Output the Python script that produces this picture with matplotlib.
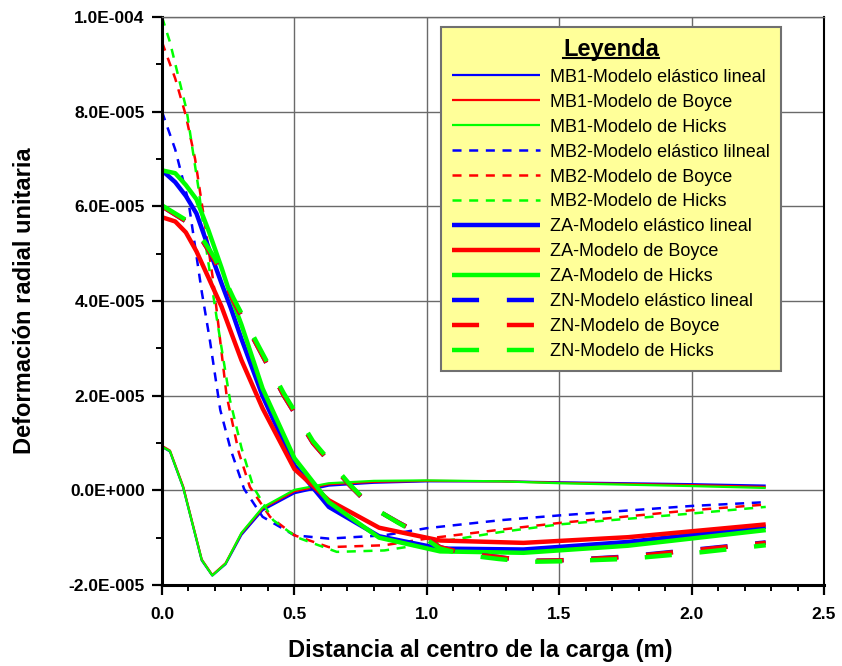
import numpy as np
import matplotlib
matplotlib.use("Agg")
import matplotlib.pyplot as plt
from matplotlib.ticker import MultipleLocator, FuncFormatter, FixedLocator
from matplotlib.lines import Line2D

plt.rcParams['font.family'] = ['Liberation Sans', 'DejaVu Sans']
plt.rcParams['lines.scale_dashes'] = False

# deformations in units of 1E-006
x_mb1 = [0, 0.03, 0.08, 0.15, 0.19, 0.24, 0.30, 0.38, 0.50, 0.63, 0.80, 1.00, 1.28, 1.50, 2.00, 2.28]
mb1_elastico = [9.2, 8.2, 0.6, -14.8, -18.0, -15.6, -9.4, -4.2, -0.6, 1.0, 1.6, 1.9, 1.9, 1.7, 1.3, 1.0]
mb1_boyce = [9.4, 8.4, 0.8, -14.6, -17.9, -15.4, -9.1, -3.8, -0.2, 1.3, 1.8, 2.0, 1.9, 1.6, 1.1, 0.7]
mb1_hicks = [9.2, 8.3, 0.6, -14.7, -18.0, -15.5, -9.0, -3.6, 0.1, 1.5, 2.0, 2.1, 1.9, 1.5, 0.9, 0.5]

x_mb2_el = [0, 0.05, 0.10, 0.15, 0.18, 0.22, 0.26, 0.31, 0.38, 0.50, 0.63, 0.84, 1.00, 1.28, 1.50, 2.00, 2.28]
mb2_elastico = [80.0, 72.0, 61.0, 42.0, 32.0, 17.0, 8.5, 0.3, -5.6, -9.5, -10.2, -9.5, -8.0, -6.3, -5.3, -3.3, -2.5]
x_mb2_bo = [0, 0.05, 0.09, 0.125, 0.156, 0.194, 0.244, 0.29, 0.332, 0.408, 0.50, 0.63, 0.84, 1.00, 1.28, 1.50, 2.00, 2.28]
mb2_boyce = [94.7, 87.0, 79.2, 70.0, 58.5, 44.0, 20.0, 8.0, 0.7, -5.6, -9.5, -12.0, -11.6, -10.2, -8.3, -6.9, -4.2, -3.0]
x_mb2_hi = [0, 0.03, 0.093, 0.137, 0.17, 0.206, 0.257, 0.30, 0.345, 0.42, 0.508, 0.66, 0.84, 1.00, 1.28, 1.50, 2.00, 2.28]
mb2_hicks = [100.0, 94.7, 80.3, 64.1, 50.0, 36.6, 19.0, 9.0, 0.7, -6.3, -9.9, -13.0, -12.7, -11.3, -8.8, -7.2, -4.9, -3.5]

x_za = [0, 0.05, 0.09, 0.13, 0.175, 0.225, 0.26, 0.30, 0.38, 0.50, 0.63, 0.82, 1.05, 1.365, 1.76, 2.28]
za_elastico = [67.6, 65.1, 62.2, 58.5, 51.4, 43.7, 38.5, 32.0, 19.9, 5.3, -3.5, -9.7, -12.3, -12.5, -10.9, -7.7]
za_boyce = [57.7, 56.8, 54.5, 50.5, 45.0, 38.8, 33.5, 27.5, 17.3, 4.5, -2.1, -7.9, -10.6, -11.1, -9.9, -7.2]
za_hicks = [67.6, 67.0, 64.5, 61.5, 55.0, 47.0, 41.0, 35.0, 21.5, 6.8, -2.5, -10.0, -12.9, -13.2, -11.7, -8.4]

x_zn = [0, 0.10, 0.15, 0.20, 0.27, 0.36, 0.46, 0.57, 0.71, 0.79, 0.89, 0.97, 1.05, 1.15, 1.27, 1.38, 1.50, 1.75, 2.00, 2.28]
zn_elastico = [60.0, 56.5, 53.0, 48.5, 40.0, 30.5, 20.0, 10.0, 1.0, -3.5, -6.7, -9.1, -12.0, -13.4, -14.1, -14.9, -14.8, -14.0, -12.6, -11.0]
zn_boyce = [60.0, 56.5, 53.0, 48.5, 40.0, 30.5, 20.0, 10.0, 1.0, -3.5, -6.7, -9.1, -12.0, -13.4, -14.1, -14.9, -14.8, -14.1, -12.7, -11.1]
zn_hicks = [60.2, 56.8, 53.4, 49.0, 40.6, 31.0, 20.5, 10.4, 1.2, -3.4, -6.8, -9.3, -12.3, -13.7, -14.5, -15.1, -15.0, -14.5, -13.3, -11.6]

labels = ["MB1-Modelo elástico lineal", "MB1-Modelo de Boyce", "MB1-Modelo de Hicks",
          "MB2-Modelo elástico lilneal", "MB2-Modelo de Boyce", "MB2-Modelo de Hicks",
          "ZA-Modelo elástico lineal", "ZA-Modelo de Boyce", "ZA-Modelo de Hicks",
          "ZN-Modelo elástico lineal", "ZN-Modelo de Boyce", "ZN-Modelo de Hicks"]

x_ticks = [0.0, 0.5, 1.0, 1.5, 2.0, 2.5]
y_ticks = [-2e-5, 0.0, 2e-5, 4e-5, 6e-5, 8e-5, 1e-4]

BLUE, RED, GREEN = "#0000ff", "#ff0000", "#00ff00"
SCALE = 1e-6


def sci(v, pos):
    if abs(v) < 1e-12:
        return "0.0E+000"
    e = int(np.floor(np.log10(abs(v)) + 1e-9))
    m = v / 10.0 ** e
    return f"{m:.1f}E{e:+04d}"


fig = plt.figure(figsize=(8.42, 6.66), dpi=100)
ax = fig.add_axes([162 / 842, 81 / 666, 662 / 842, 568 / 666])

series = [
    (x_mb1, mb1_elastico, BLUE, 1.6, None),
    (x_mb1, mb1_boyce, RED, 1.6, None),
    (x_mb1, mb1_hicks, GREEN, 1.6, None),
    (x_mb2_el, mb2_elastico, BLUE, 1.8, (6.5, 5.5)),
    (x_mb2_bo, mb2_boyce, RED, 1.8, (6.5, 5.5)),
    (x_mb2_hi, mb2_hicks, GREEN, 1.8, (6.5, 5.5)),
    (x_za, za_elastico, BLUE, 3.2, None),
    (x_za, za_boyce, RED, 3.2, None),
    (x_za, za_hicks, GREEN, 3.2, None),
    (x_zn, zn_elastico, BLUE, 3.2, (19.5, 20)),
    (x_zn, zn_boyce, RED, 3.2, (19.5, 20)),
    (x_zn, zn_hicks, GREEN, 3.2, (19.5, 20)),
]

handles = []
for (xs, ys, col, lw, dash), lab in zip(series, labels):
    line, = ax.plot(xs, np.array(ys) * SCALE, color=col, lw=lw, label=lab,
                    solid_joinstyle="round", solid_capstyle="butt", dash_capstyle="butt")
    if dash is not None:
        line.set_dashes(dash)
    handles.append(line)

ax.set_xlim(0, 2.5)
ax.set_ylim(-2e-5, 1e-4)
ax.xaxis.set_major_locator(FixedLocator(x_ticks))
ax.xaxis.set_minor_locator(MultipleLocator(0.1))
ax.yaxis.set_major_locator(FixedLocator(y_ticks))
ax.yaxis.set_minor_locator(MultipleLocator(1e-5))
ax.xaxis.set_major_formatter(FuncFormatter(lambda v, p: f"{v:.1f}"))
ax.yaxis.set_major_formatter(FuncFormatter(sci))

ax.grid(True, which="major", color="#6a6a6a", lw=1.0)
ax.set_axisbelow(True)

ax.tick_params(which="major", direction="out", length=7.5, width=1.6, labelsize=12.5)
ax.tick_params(axis="x", which="major", pad=8)
ax.tick_params(axis="y", which="major", pad=5)
ax.tick_params(which="minor", direction="out", length=4, width=1.4)
for lab in ax.get_xticklabels() + ax.get_yticklabels():
    lab.set_fontweight("bold")

ax.spines["left"].set_linewidth(2.2)
ax.spines["bottom"].set_linewidth(2.2)
ax.spines["right"].set_linewidth(1.5)
ax.spines["top"].set_color("#6a6a6a")
ax.spines["top"].set_linewidth(1.0)

ax.set_xlabel("Distancia al centro de la carga (m)", fontsize=17, fontweight="bold")
ax.set_ylabel("Deformación radial unitaria", fontsize=17, fontweight="bold")
ax.xaxis.set_label_coords(0.48, -0.095)
ax.yaxis.set_label_coords(-0.19, 0.5)

leg = ax.legend(handles=handles, loc="upper left",
                bbox_to_anchor=(441 / 842, 1 - 27 / 666), bbox_transform=fig.transFigure,
                borderaxespad=0, fontsize=13, title="Leyenda",
                title_fontproperties={"weight": "bold", "size": 17},
                handlelength=4.9, handletextpad=0.55, labelspacing=0.44,
                borderpad=0.6, fancybox=False, framealpha=1, facecolor="#ffff99",
                edgecolor="#707070")
leg.get_frame().set_linewidth(1.5)

fig.canvas.draw()
renderer = fig.canvas.get_renderer()
title = leg.get_title()
bb = title.get_window_extent(renderer)
w, h, d = renderer.get_text_width_height_descent(title.get_text(), title.get_fontproperties(), ismath=False)
yline = bb.y0 + d - 2
fig.add_artist(Line2D([bb.x0, bb.x1], [yline, yline], transform=None, color="black", lw=1.5))

fig.savefig("out.png", dpi=100, facecolor="white")
